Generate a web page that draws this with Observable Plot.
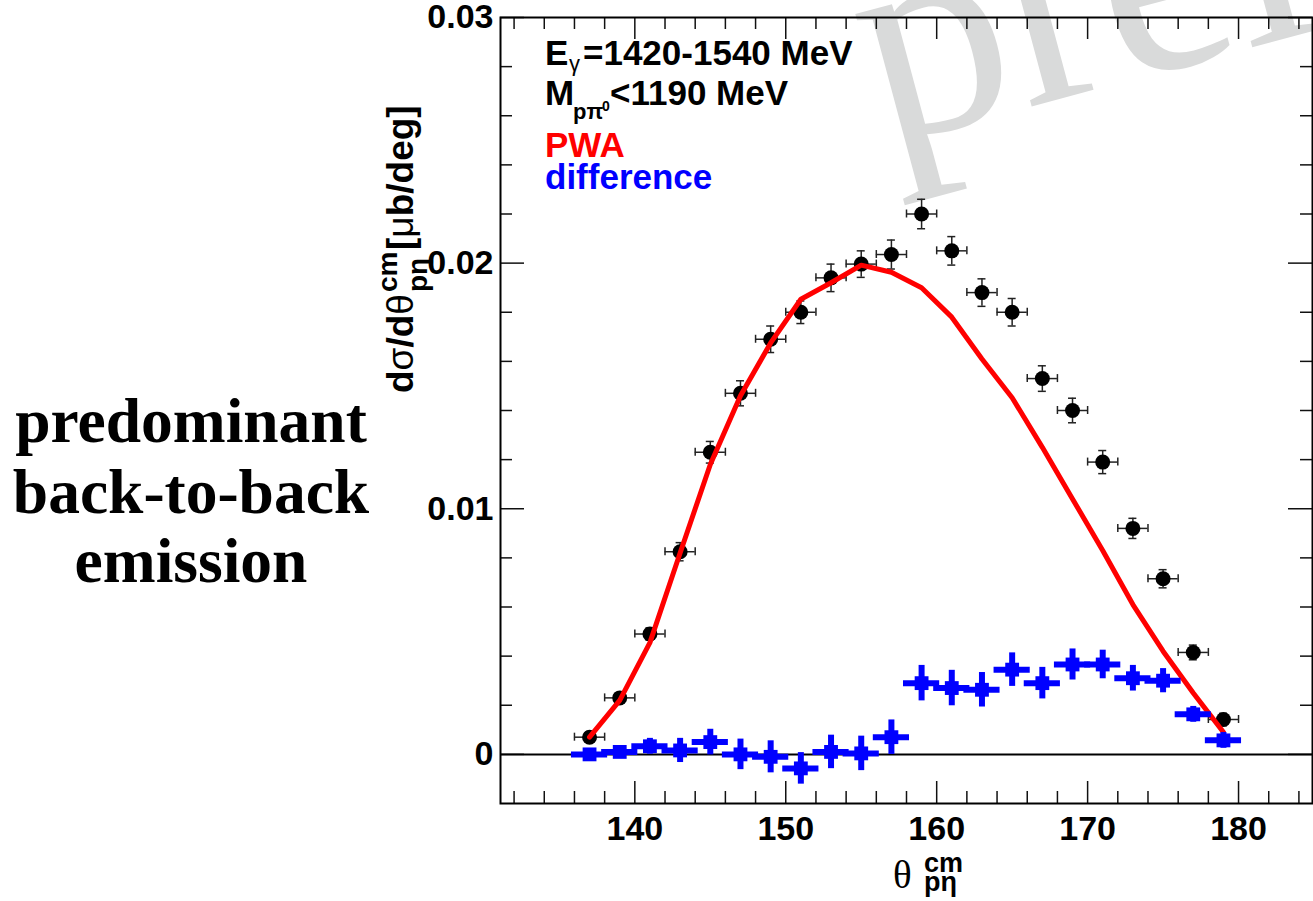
<!DOCTYPE html>
<html><head><meta charset="utf-8">
<script src="https://cdn.jsdelivr.net/npm/d3@7"></script>
<script src="https://cdn.jsdelivr.net/npm/@observablehq/plot@0.6"></script>
<style>html,body{margin:0;padding:0;background:#fff;overflow:hidden}</style>
</head><body><div id="chart"></div>
<script>
// ---- data ----
const theta    = [137,139,141,143,145,147,149,151,153,155,157,159,161,163,165,167,169,171,173,175,177,179];
const sigma    = [0.0007,0.0023,0.0049,0.00825,0.0123,0.0147,0.0169,0.0180,0.0194,0.01996,0.02035,0.0220,0.0205,0.0188,0.0180,0.0153,0.0140,0.0119,0.0092,0.00715,0.00415,0.00142];
const sigmaErr = [0.0002,0.0002,0.00025,0.00037,0.00044,0.00051,0.00054,0.00046,0.00056,0.00054,0.00059,0.0006,0.00058,0.00056,0.00056,0.00052,0.0005,0.00047,0.00041,0.00037,0.0003,0.00025];
const pwa      = [0.0007,0.0022,0.00455,0.0082,0.0118,0.0146,0.01675,0.01853,0.0192,0.01992,0.01963,0.0190,0.0178,0.0161,0.01452,0.0125,0.0104,0.0083,0.0061,0.0042,0.0025,0.0009];
const diff     = [0.0000,0.0001,0.00033,0.00016,0.0005,0.0000,-0.0001,-0.00057,0.0001,0.00004,0.0007,0.0029,0.0027,0.00263,0.00345,0.0029,0.00366,0.00366,0.0031,0.0030,0.00163,0.00057];
const diffErr  = [0.0001,0.0001,0.0002,0.00037,0.0004,0.0005,0.00053,0.00052,0.00056,0.00058,0.00058,0.0006,0.0006,0.00058,0.00056,0.00052,0.00051,0.00046,0.0004,0.00037,0.0002,0.0002];

const xMajor = [140,150,160,170,180];
const xMinor = [132,134,136,138,142,144,146,148,152,154,156,158,162,164,166,168,172,174,176,178,182,184];
const yMajor = [0,0.01,0.02,0.03];
const yMinor = [0.002,0.004,0.006,0.008,0.012,0.014,0.016,0.018,0.022,0.024,0.026,0.028];
const yTickLabels = ["0","0.01","0.02","0.03"];
const xDomain = [131.1,184.9];
const yDomain = [-0.002,0.03];

const rows = theta.map((t,i)=>({t, s:sigma[i], se:sigmaErr[i], p:pwa[i], d:diff[i], de:diffErr[i]}));

const SANS = "'Liberation Sans', Arial, Helvetica, sans-serif";
const SERIF = "'Liberation Serif', 'Times New Roman', serif";
const BLK = "#111";
const y0 = yDomain[0], y1 = yDomain[1], x0 = xDomain[0], x1 = xDomain[1];

const plot = Plot.plot({
  width: 1313, height: 901,
  marginLeft: 500, marginRight: 1, marginTop: 17, marginBottom: 98,
  x: {domain: xDomain},
  y: {domain: yDomain},
  style: {background: "white"},
  marks: [
    // ticks (inside, on all four sides)
    Plot.ruleX(xMajor, {x: d=>d, y1: y0, y2: y0, insetTop: -22, stroke: BLK, strokeWidth: 1.5}),
    Plot.ruleX(xMinor, {x: d=>d, y1: y0, y2: y0, insetTop: -12, stroke: BLK, strokeWidth: 1.5}),
    Plot.ruleX(xMajor, {x: d=>d, y1: y1, y2: y1, insetBottom: -22, stroke: BLK, strokeWidth: 1.5}),
    Plot.ruleX(xMinor, {x: d=>d, y1: y1, y2: y1, insetBottom: -12, stroke: BLK, strokeWidth: 1.5}),
    Plot.ruleY(yMajor, {y: d=>d, x1: x0, x2: x0, insetRight: -24, stroke: BLK, strokeWidth: 1.5}),
    Plot.ruleY(yMinor, {y: d=>d, x1: x0, x2: x0, insetRight: -12, stroke: BLK, strokeWidth: 1.5}),
    Plot.ruleY(yMajor, {y: d=>d, x1: x1, x2: x1, insetLeft: -24, stroke: BLK, strokeWidth: 1.5}),
    Plot.ruleY(yMinor, {y: d=>d, x1: x1, x2: x1, insetLeft: -12, stroke: BLK, strokeWidth: 1.5}),
    Plot.ruleY([0], {stroke: "black", strokeWidth: 2}),
    // data points with error bars
    Plot.ruleY(rows, {y: "s", x1: d=>d.t-1, x2: d=>d.t+1, stroke: "#222", strokeWidth: 1.5}),
    Plot.ruleX(rows, {x: d=>d.t-1, y1: "s", y2: "s", insetTop: -4, insetBottom: -4, stroke: "#222", strokeWidth: 1.5}),
    Plot.ruleX(rows, {x: d=>d.t+1, y1: "s", y2: "s", insetTop: -4, insetBottom: -4, stroke: "#222", strokeWidth: 1.5}),
    Plot.ruleX(rows, {x: "t", y1: d=>d.s-d.se, y2: d=>d.s+d.se, stroke: "#222", strokeWidth: 1.5}),
    Plot.ruleY(rows, {y: d=>d.s-d.se, x1: "t", x2: "t", insetLeft: -4, insetRight: -4, stroke: "#222", strokeWidth: 1.5}),
    Plot.ruleY(rows, {y: d=>d.s+d.se, x1: "t", x2: "t", insetLeft: -4, insetRight: -4, stroke: "#222", strokeWidth: 1.5}),
    Plot.dot(rows, {x: "t", y: "s", r: 7.5, fill: "black", stroke: "none"}),
    // PWA curve
    Plot.line(rows, {x: "t", y: "p", stroke: "#ff0000", strokeWidth: 5, strokeLinejoin: "miter"}),
    // difference
    Plot.ruleY(rows, {y: "d", x1: d=>d.t-1, x2: d=>d.t+1, stroke: "#0000ff", strokeWidth: 6, strokeLinecap: "square"}),
    Plot.ruleX(rows, {x: "t", y1: d=>d.d-d.de, y2: d=>d.d+d.de, stroke: "#0000ff", strokeWidth: 6, strokeLinecap: "square"}),
    Plot.dot(rows, {x: "t", y: "d", r: 7.8, symbol: "square", fill: "#0000ff", stroke: "none"}),
    Plot.frame({stroke: "black", strokeWidth: 2}),
    Plot.axisY({ticks: yMajor, tickSize: 0, tickPadding: 7, label: null,
      tickFormat: d => yTickLabels[yMajor.indexOf(d)],
      fontSize: 34, fontWeight: "bold", fontFamily: SANS}),
    Plot.axisX({anchor: "bottom", ticks: xMajor, tickSize: 0, tickPadding: 12, label: null,
      tickFormat: d => String(d), fontSize: 34, fontWeight: "bold", fontFamily: SANS})
  ]
});
document.getElementById("chart").appendChild(plot);
const svg = d3.select(plot);

// watermark (behind everything)
svg.insert("text", ":first-child")
  .attr("transform", "translate(884,146) rotate(-15)")
  .attr("text-anchor", "start")
  .attr("font-family", SERIF).attr("font-size", 294).attr("font-weight", "normal")
  .attr("fill", "#d9dada")
  .text("preliminary");

function txt(parent, x, y, spans, base) {
  const t = parent.append("text").attr("x", x).attr("y", y).attr("text-anchor", "start")
    .attr("font-family", base.family || SANS).attr("font-size", base.size)
    .attr("font-weight", base.weight || "bold").attr("fill", base.fill || "black");
  for (const s of spans) {
    const ts = t.append("tspan").text(s.t);
    if (s.x != null) ts.attr("x", s.x);
    if (s.y != null) ts.attr("y", s.y);
    if (s.size) ts.attr("font-size", s.size);
    if (s.weight) ts.attr("font-weight", s.weight);
    if (s.family) ts.attr("font-family", s.family);
  }
  return t;
}

// legend texts
txt(svg, 545, 65, [
  {t: "E"},
  {t: "γ", x: 569, y: 71, size: 22, weight: "normal"},
  {t: "=1420-1540 MeV", x: 583, y: 65}
], {size: 35});
txt(svg, 545, 105, [
  {t: "M"},
  {t: "pπ", x: 573, y: 119, size: 22},
  {t: "0", x: 602, y: 111, size: 14},
  {t: "<1190 MeV", x: 610, y: 105}
], {size: 35});
txt(svg, 545, 157, [{t: "PWA"}], {size: 35, fill: "#ff0000"});
txt(svg, 545, 189, [{t: "difference"}], {size: 35, fill: "#0000ff"});

// y-axis title
const gy = svg.append("g").attr("transform", "translate(413,393) rotate(-90)");
txt(gy, 0, 0, [
  {t: "d"}, {t: "σ", weight: "normal"}, {t: "/d"}, {t: "θ", weight: "normal"},
  {t: "cm", x: 101, y: -16, size: 28},
  {t: "pη", x: 101, y: 14, size: 28},
  {t: "[", x: 143, y: 0}, {t: "μ", weight: "normal"}, {t: "b/deg]"}
], {size: 37});

// x-axis title
txt(svg, 893, 888, [{t: "θ"}], {size: 39, family: SERIF, weight: "normal"});
txt(svg, 924, 872, [{t: "cm"}], {size: 27});
txt(svg, 924, 891, [{t: "pη"}], {size: 27});

// side text
const side = ["predominant", "back-to-back", "emission"];
const sideY = [442, 513, 582];
side.forEach((s, i) => {
  svg.append("text").attr("x", 191).attr("y", sideY[i]).attr("text-anchor", "middle")
    .attr("font-family", SERIF).attr("font-weight", "bold").attr("font-size", 63.5)
    .attr("fill", "black").text(s);
});
</script>
</body></html>
